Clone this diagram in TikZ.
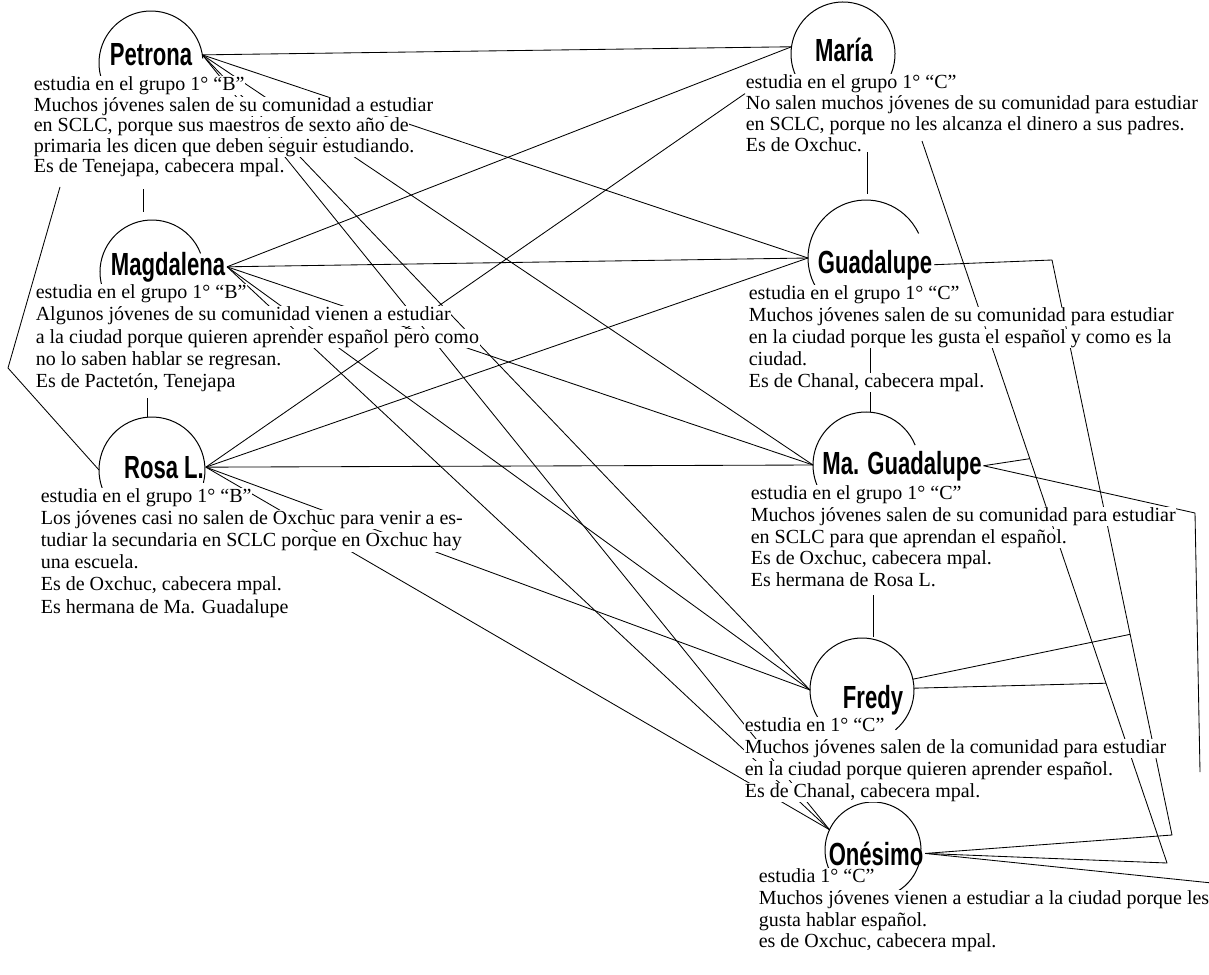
\documentclass[tikz,border=0pt]{standalone}
\usepackage{fontspec}
\setmainfont{Liberation Serif}
\newfontfamily\namefont[FakeStretch=0.69]{Liberation Sans Bold}
\usetikzlibrary{calc}
\pgfdeclarelayer{paper}
\pgfdeclarelayer{wires}
\pgfsetlayers{paper,wires,main}

\tikzset{
  body/.style={anchor=base west, inner sep=0.6pt, fill=white, font=\fontsize{20}{20}\selectfont},
  who/.style={anchor=base, font=\namefont\fontsize{32}{32}\selectfont, inner sep=0pt, outer sep=2pt},
  hoop/.style={circle, draw=none, minimum size=#1, inner sep=0pt, outer sep=0pt},
  wire/.style={line width=0.85pt, line join=round},
  rim/.style={line width=1pt},
}

\begin{document}
\begin{tikzpicture}[x=1pt,y=1pt]
\useasboundingbox (0,0) rectangle (1209,-974);
\begin{pgfonlayer}{paper}
  \fill[white] (0,0) rectangle (1209,-974);
\end{pgfonlayer}

% circles around the names (used for anchors and arcs)
\node[hoop=104pt] (petC) at (151,-63) {};
\node[hoop=104pt] (magC) at (152,-272) {};
\node[hoop=106pt] (rosC) at (152,-470) {};
\node[hoop=104pt] (marC) at (843,-54) {};
\node[hoop=116pt] (guaC) at (866,-258) {};
\node[hoop=106pt] (mguC) at (866,-465) {};
\node[hoop=104pt] (freC) at (862,-690) {};
\node[hoop=96pt]  (oneC) at (873,-850) {};

% names
\node[who] (petN) at (151,-66) {Petrona};
\node[who] (magN) at (168,-275) {Magdalena};
\node[who] (rosN) at (164,-478) {Rosa L.};
\node[who] (marN) at (844,-62) {María};
\node[who] (guaN) at (875,-273) {Guadalupe};
\node[who] (mguN) at (902,-474) {Ma. Guadalupe};
\node[who] (freN) at (873,-708) {Fredy};
\node[who] (oneN) at (876,-865) {Onésimo};

% text blocks, one node per line
\foreach \s [count=\i] in {{estudia en el grupo 1° “B”},{Muchos jóvenes salen de su comunidad a estudiar},{en SCLC, porque sus maestros de sexto año de},{primaria les dicen que deben seguir estudiando.},{Es de Tenejapa, cabecera mpal.}}
  \node[body] (pet\i) at (33,{-90.5-20.6*(\i-1)}) {\s};

\foreach \s [count=\i] in {{estudia en el grupo 1° “B”},{Algunos jóvenes de su comunidad vienen a estudiar},{a la ciudad porque quieren aprender español pero como},{no lo saben hablar se regresan.},{Es de Pactetón, Tenejapa}}
  \node[body] (mag\i) at (35,{-298.5-22.3*(\i-1)}) {\s};

\foreach \s [count=\i] in {{estudia en el grupo 1° “B”},{Los jóvenes casi no salen de Oxchuc para venir a es-},{tudiar la secundaria en SCLC porque en Oxchuc hay},{una escuela.},{Es de Oxchuc, cabecera mpal.},{Es hermana de Ma. Guadalupe}}
  \node[body] (ros\i) at (40,{-502.5-22.1*(\i-1)}) {\s};

\foreach \s [count=\i] in {{estudia en el grupo 1° “C”},{No salen muchos jóvenes de su comunidad para estudiar},{en SCLC, porque no les alcanza el dinero a sus padres.},{Es de Oxchuc.}}
  \node[body] (mar\i) at (745,{-88.5-21*(\i-1)}) {\s};

\foreach \s [count=\i] in {{estudia en el grupo 1° “C”},{Muchos jóvenes salen de su comunidad para estudiar},{en la ciudad porque les gusta el español y como es la},{ciudad.},{Es de Chanal, cabecera mpal.}}
  \node[body] (gua\i) at (748,{-299.5-22*(\i-1)}) {\s};

\foreach \s [count=\i] in {{estudia en el grupo 1° “C”},{Muchos jóvenes salen de su comunidad para estudiar},{en SCLC para que aprendan el español.},{Es de Oxchuc, cabecera mpal.},{Es hermana de Rosa L.}}
  \node[body] (mgu\i) at (750,{-499.5-21.8*(\i-1)}) {\s};

\foreach \s [count=\i] in {{estudia en 1° “C”},{Muchos jóvenes salen de la comunidad para estudiar},{en la ciudad porque quieren aprender español.},{Es de Chanal, cabecera mpal.}}
  \node[body] (fre\i) at (744,{-731.5-22*(\i-1)}) {\s};

\foreach \s [count=\i] in {{estudia 1° “C”},{Muchos jóvenes vienen a estudiar a la ciudad porque les},{gusta hablar español.},{es de Oxchuc, cabecera mpal.}}
  \node[body] (one\i) at (758,{-882.5-21.8*(\i-1)}) {\s};

% bends of the routed connectors
\coordinate (lb)  at (8,-368);
\coordinate (gb1) at (1052,-260);
\coordinate (gb2) at (1172,-835);
\coordinate (mb1) at (922,-141);
\coordinate (mb2) at (1167,-863);
\coordinate (rb1) at (1195,-513);
\coordinate (rb2) at (1200,-772);
\coordinate (ob)  at (1212,-883);

\begin{pgfonlayer}{wires}
  % open circles around the names
  \draw[rim] (petC.5)   arc[start angle=5,   end angle=195, radius=52pt];
  \draw[rim] (magC.21)  arc[start angle=21,  end angle=196, radius=52pt];
  \draw[rim] (rosC.-14) arc[start angle=-14, end angle=203, radius=53pt];
  \draw[rim] (marC.-28) arc[start angle=-28, end angle=207, radius=52pt];
  \draw[rim] (guaC.25)  arc[start angle=25,  end angle=210, radius=58pt];
  \draw[rim] (mguC.22)  arc[start angle=22,  end angle=206, radius=53pt];
  \draw[rim] (freC.-50) arc[start angle=-50, end angle=228, radius=52pt];
  \draw[rim] (oneC.-60) arc[start angle=-60, end angle=205, radius=48pt];

  % Petrona
  \draw[wire] (petC.9) -- (marC.172);
  \draw[wire] (petC.9) -- (guaC.west);
  \draw[wire] (petC.9) -- (mguC.west);
  \draw[wire] (petC.9) -- (freC.west);
  \draw[wire] (petC.9) -- (oneC.155);
  % Magdalena
  \draw[wire] (magN.east) -- (marC.172);
  \draw[wire] (magN.east) -- (guaC.west);
  \draw[wire] (magN.east) -- (mguC.west);
  \draw[wire] (magN.east) -- (freC.west);
  \draw[wire] (magN.east) -- (oneC.155);
  % Rosa L.
  \draw[wire] (rosN.east) -- (mar1.south west);
  \draw[wire] (rosN.east) -- (guaC.west);
  \draw[wire] (rosN.east) -- (mguC.west);
  \draw[wire] (rosN.east) -- (freC.west);
  \draw[wire] (rosN.east) -- (oneC.155);

  % routes along the right side
  \draw[wire] (guaN.east) -- (gb1) -- (gb2) -- (oneN.east);
  \draw[wire] (mb1) -- (mb2) -- (oneN.east);
  \draw[wire] (oneN.east) -- (ob);
  \draw[wire] (freC.12) -- ($(gb1)!0.651!(gb2)$);
  \draw[wire] (freC.2) -- ($(mb1)!0.751!(mb2)$);
  \draw[wire] (mguN.east) -- ($(mb1)!0.44!(mb2)$);
  \draw[wire] (mguN.east) -- (rb1) -- (rb2);

  % short links between blocks of one column
  \draw[wire] ([shift={(-9,31)}]magC.north) -- ([shift={(-9,8)}]magC.north);
  \draw[wire] ([shift={(-5,19)}]rosC.north) -- ([shift={(-5,0)}]rosC.north);
  \draw[wire] ([shift={(1,48)}]guaC.north) -- ([shift={(1,6)}]guaC.north);
  \draw[wire] ([shift={(4,67)}]mguC.north) -- ([shift={(4,0)}]mguC.north);
  \draw[wire] ([shift={(11,43)}]freC.north) -- ([shift={(11,1)}]freC.north);
  \draw[wire] ([shift={(27,-9)}]pet5.south west) -- (lb) -- (rosC.west);
\end{pgfonlayer}
\end{tikzpicture}
\end{document}
